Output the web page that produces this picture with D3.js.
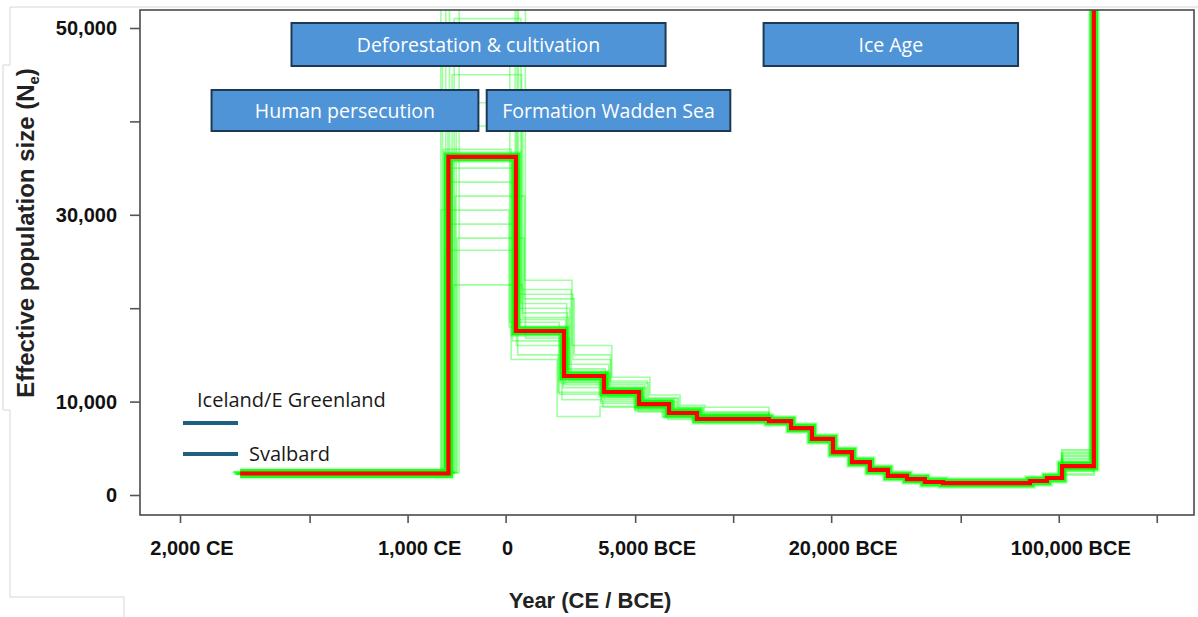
<!DOCTYPE html>
<html><head><meta charset="utf-8">
<script src="https://cdn.jsdelivr.net/npm/d3@7"></script>
<style>body{margin:0;background:#fff}svg{display:block}</style>
</head><body>
<svg id="c" width="1198" height="617"></svg>
<script>
// ---------- data (time in years before present, Ne = effective population size) ----------
const xTickYearsAgo = [200, 500, 1000, 2000, 5000, 10000, 20000, 50000, 100000, 200000];
const xLabelYearsAgo = [200, 1000, 2000, 5000, 20000, 100000];
const xLabelText = ["2,000 CE", "1,000 CE", "0", "5,000 BCE", "20,000 BCE", "100,000 BCE"];
const yTickValues = [0, 10000, 20000, 30000, 40000, 50000];
const yLabeledValues = [0, 10000, 30000, 50000];

// median trajectory (step starts, value holds until next step)
const medianBreaks = [306, 1335, 2152, 3023, 4010, 5138, 6352, 7740, 12880, 15060, 17460, 20260,
  23170, 26300, 29880, 34200, 38800, 44100, 81600, 92000, 102400, 128200];
const medianNe = [2300, 36200, 17560, 12740, 11030, 9740, 8780, 8140, 7920, 7170, 6000, 4600,
  3530, 2680, 2040, 1710, 1390, 1280, 1500, 1820, 3100, 1000000];

// bootstrap replicates: first eight epochs (later epochs follow the median)
const replicateBreaks = [
  [300, 1380, 2250, 3100, 4050, 5200, 6400, 7800],
  [295, 1300, 2100, 2950, 3950, 5050, 6200, 7600],
  [290, 1420, 2280, 3250, 4200, 5500, 6800, 8100],
  [305, 1350, 2180, 2900, 3920, 5000, 6100, 7500],
  [298, 1270, 2050, 3050, 4100, 5300, 6500, 7900],
  [292, 1400, 2290, 3200, 4240, 5550, 6870, 8200],
  [302, 1320, 2120, 2980, 3980, 5100, 6300, 7700],
  [296, 1360, 2200, 3150, 4150, 5350, 6600, 8000],
  [300, 1290, 2080, 2880, 3900, 5000, 6050, 7450],
  [294, 1410, 2260, 3120, 4080, 5250, 6450, 7850],
  [303, 1330, 2160, 3000, 4020, 5150, 6350, 7650],
  [297, 1370, 2240, 3180, 4180, 5400, 6700, 8050],
  [291, 1280, 2060, 2920, 3940, 5080, 6250, 7550],
  [299, 1390, 2230, 3080, 4110, 5280, 6550, 7950],
  [301, 1310, 2140, 3020, 4060, 5180, 6380, 7720],
  [293, 1345, 2190, 3220, 4210, 5450, 6750, 8150],
  [297, 1440, 2170, 3060, 4000, 5220, 6420, 7780],
  [304, 1265, 2300, 3140, 4130, 5330, 6600, 7980]
];
const replicateNe = [
  [2300, 22500, 19500, 13500, 11200, 9800, 8900, 8300],
  [2250, 26200, 16500, 12000, 10400, 9300, 8500, 8100],
  [2400, 27500, 21000, 15000, 12000, 10400, 9200, 8700],
  [2350, 29000, 15000, 11000, 9800, 9100, 8300, 8000],
  [2200, 30500, 18000, 12800, 11000, 9600, 8800, 8400],
  [2450, 32000, 23000, 16000, 12600, 10700, 9600, 9400],
  [2300, 33500, 17200, 10200, 9400, 8900, 8100, 8000],
  [2250, 35000, 20000, 14000, 11800, 10100, 9000, 8600],
  [2350, 37000, 14500, 8400, 9500, 9000, 8400, 8200],
  [2400, 39500, 19000, 12300, 10800, 9500, 8700, 8300],
  [2300, 42000, 16000, 11500, 10200, 9200, 8600, 8200],
  [2200, 45000, 22000, 13000, 11500, 10000, 9300, 8800],
  [2500, 48000, 18500, 10800, 10000, 9400, 8800, 8500],
  [2300, 51000, 20500, 12500, 11300, 9900, 9100, 8600],
  [2350, 60000, 17500, 11800, 10600, 9700, 8900, 8400],
  [2250, 75000, 21500, 14500, 12200, 10300, 9400, 8900],
  [2400, 90000, 18800, 12100, 11100, 9600, 8900, 8300],
  [2300, 54000, 16800, 13200, 10500, 9800, 9000, 8500]
];
// replicate spread in the oldest step before the final rise
const tailReplicateNe = [4800, 4500, 4200, 3900, 3500, 2600, 2200];

const periods = [
  { label: "Deforestation & cultivation", from: 440, to: 6200, row: 0 },
  { label: "Ice Age", from: 12400, to: 75000, row: 0 },
  { label: "Human persecution", from: 250, to: 1650, row: 1 },
  { label: "Formation Wadden Sea", from: 1750, to: 9800, row: 1 }
];
const legendLabels = ["Iceland/E Greenland", "Svalbard"];

// ---------- layout ----------
const L = 140, R = 1194, T = 10, B = 515;
const svg = d3.select("#c");
const x = d3.scaleLog().domain([150.7, 260300]).range([L, R]);
const y = d3.scaleLinear().domain([-2141, 51927]).range([B, T]);
const tickFont = "'Liberation Sans', Arial, sans-serif";
const boxFont = "'Open Sans', 'Noto Sans', sans-serif";

// faint outline of the composed figure
svg.append("path")
  .attr("d", "M1198,7H10V65H3V410H10V597H124V617")
  .attr("fill", "none").attr("stroke", "#d6d6d6").attr("stroke-width", 1);

svg.append("defs").append("clipPath").attr("id", "plotclip")
  .append("rect").attr("x", L).attr("y", T).attr("width", R - L).attr("height", B - T);

const stepLine = d3.line().x(d => x(d.t)).y(d => y(d.n)).curve(d3.curveStepAfter);
const toPoints = (breaks, values) => {
  const pts = breaks.map((t, i) => ({ t, n: values[i] }));
  pts.push({ t: x.domain()[1], n: values[values.length - 1] });
  return pts;
};

const plot = svg.append("g").attr("clip-path", "url(#plotclip)");

// replicate lines
replicateBreaks.forEach((br, i) => {
  const breaks = br.concat(medianBreaks.slice(8));
  const vals = replicateNe[i].concat(medianNe.slice(8));
  plot.append("path").attr("d", stepLine(toPoints(breaks, vals)))
    .attr("fill", "none").attr("stroke", "#00ff00").attr("stroke-opacity", 0.38)
    .attr("stroke-width", 1.6);
});
tailReplicateNe.forEach(v => {
  const pts = [{ t: medianBreaks[19], n: medianNe[19] }, { t: medianBreaks[20], n: v },
               { t: medianBreaks[21], n: medianNe[21] }];
  plot.append("path").attr("d", stepLine(pts))
    .attr("fill", "none").attr("stroke", "#00ff00").attr("stroke-opacity", 0.45)
    .attr("stroke-width", 2.4);
});

// green band around median
const medPts = toPoints(medianBreaks, medianNe);
plot.append("path").attr("d", stepLine(medPts))
  .attr("fill", "none").attr("stroke", "#00ff00").attr("stroke-opacity", 0.22)
  .attr("stroke-width", 12).attr("stroke-linejoin", "miter");
plot.append("path").attr("d", stepLine(medPts))
  .attr("fill", "none").attr("stroke", "#00ff00").attr("stroke-opacity", 0.85)
  .attr("stroke-width", 9).attr("stroke-linejoin", "miter");
// median (red)
plot.append("path").attr("d", stepLine(medPts))
  .attr("fill", "none").attr("stroke", "#ff0000").attr("stroke-width", 4.2)
  .attr("stroke-linejoin", "miter");

// frame
svg.append("rect").attr("x", L).attr("y", T).attr("width", R - L).attr("height", B - T)
  .attr("fill", "none").attr("stroke", "#4a4a4a").attr("stroke-width", 1.6);

// y axis
const yAxis = svg.append("g").attr("transform", `translate(${L},0)`)
  .call(d3.axisLeft(y).tickValues(yTickValues).tickSize(10).tickPadding(13)
    .tickFormat(d => yLabeledValues.includes(d) ? d3.format(",")(d) : ""));
yAxis.select(".domain").remove();
yAxis.selectAll(".tick line").attr("stroke", "#555").attr("stroke-width", 1.6);
yAxis.selectAll(".tick text").attr("font-family", tickFont).attr("font-weight", "bold")
  .attr("font-size", 20).attr("fill", "#111");

// x axis
const xAxis = svg.append("g").attr("transform", `translate(0,${B})`)
  .call(d3.axisBottom(x).tickValues(xTickYearsAgo).tickSize(8).tickFormat(""));
xAxis.select(".domain").remove();
xAxis.selectAll(".tick line").attr("stroke", "#555").attr("stroke-width", 1.6);
svg.append("g").selectAll("text").data(xLabelYearsAgo).join("text")
  .attr("x", d => x(d) + (d === 2000 ? 2 : 12)).attr("y", 555)
  .attr("text-anchor", "middle").attr("font-family", tickFont).attr("font-weight", "bold")
  .attr("font-size", 20).attr("fill", "#111").text((d, i) => xLabelText[i]);

// axis titles
svg.append("text").attr("x", 590).attr("y", 608).attr("text-anchor", "middle")
  .attr("font-family", tickFont).attr("font-weight", "bold").attr("font-size", 22)
  .attr("fill", "#222").text("Year (CE / BCE)");
const yt = svg.append("text").attr("transform", "translate(34,233) rotate(-90)")
  .attr("text-anchor", "middle").attr("font-family", tickFont).attr("font-weight", "bold")
  .attr("font-size", 24).attr("fill", "#222");
yt.append("tspan").text("Effective population size (N");
yt.append("tspan").attr("font-size", 15).attr("dy", 5).text("e");
yt.append("tspan").attr("dy", -5).text(")");

// period boxes
const rowTop = [23, 90], rowBottom = [66, 131];
const pg = svg.append("g").selectAll("g").data(periods).join("g");
pg.append("rect").attr("x", d => x(d.from)).attr("y", d => rowTop[d.row])
  .attr("width", d => x(d.to) - x(d.from)).attr("height", d => rowBottom[d.row] - rowTop[d.row])
  .attr("fill", "#4f94d7").attr("stroke", "#1d3954").attr("stroke-width", 2);
pg.append("text").attr("x", d => (x(d.from) + x(d.to)) / 2)
  .attr("y", d => (rowTop[d.row] + rowBottom[d.row]) / 2 + 7)
  .attr("text-anchor", "middle").attr("font-family", boxFont).attr("font-size", 19.5)
  .attr("fill", "#ffffff").text(d => d.label);

// legend
const legendColor = "#1f5f82";
svg.append("line").attr("x1", 183).attr("x2", 238).attr("y1", 423).attr("y2", 423)
  .attr("stroke", legendColor).attr("stroke-width", 4);
svg.append("line").attr("x1", 183).attr("x2", 238).attr("y1", 454).attr("y2", 454)
  .attr("stroke", legendColor).attr("stroke-width", 4);
svg.append("text").attr("x", 197).attr("y", 407).attr("font-family", boxFont)
  .attr("font-size", 20).attr("fill", "#1a1a1a").text(legendLabels[0]);
svg.append("text").attr("x", 249).attr("y", 461).attr("font-family", boxFont)
  .attr("font-size", 20).attr("fill", "#1a1a1a").text(legendLabels[1]);
</script>
</body></html>
